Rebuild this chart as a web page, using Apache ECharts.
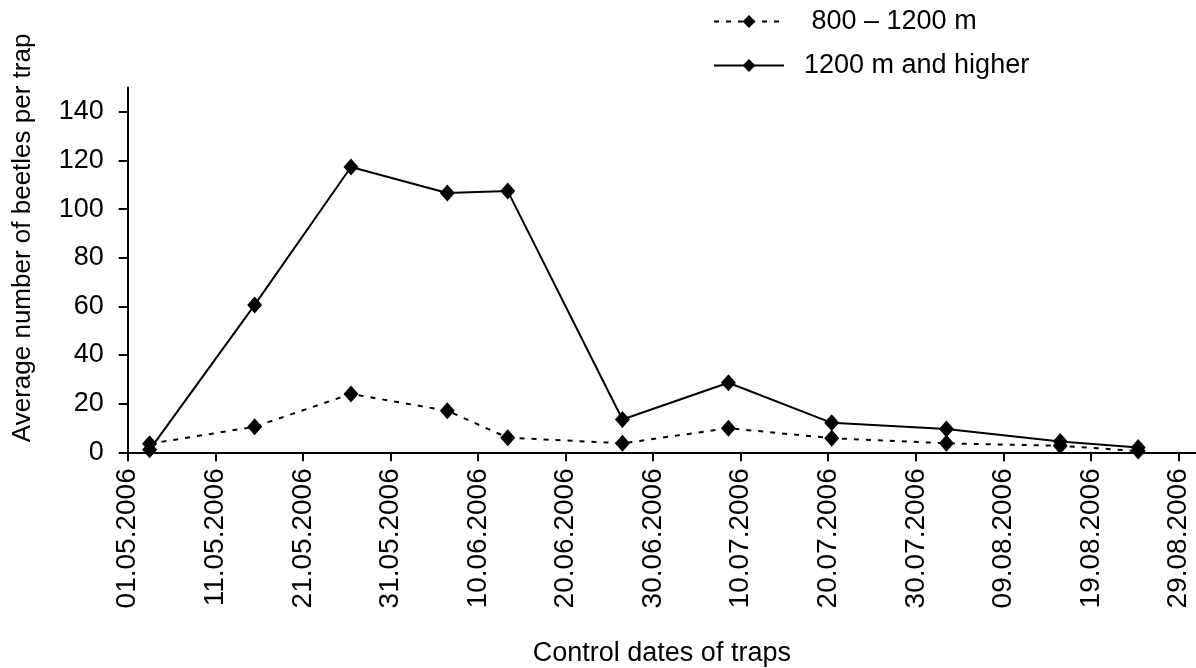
<!DOCTYPE html>
<html>
<head>
<meta charset="utf-8">
<script src="https://cdn.jsdelivr.net/npm/echarts@6.0.0/dist/echarts.min.js"></script>
<style>
html,body{margin:0;padding:0;background:#fff;}
#chart{width:1196px;height:668px;}
</style>
</head>
<body>
<div id="chart"></div>
<script>
// Days after 01.05.2006 of each trap control
var controlDays = [2.5, 14.5, 25.5, 36.5, 43.4, 56.5, 68.6, 80.4, 93.5, 106.5, 115.4];
var seriesNames = [' 800 \u2013 1200 m', '1200 m and higher'];
var mid800to1200 = [3.5, 10.5, 24.0, 17.1, 6.0, 3.7, 9.9, 5.8, 3.7, 2.7, 0.5];
var high1200plus = [1.0, 60.6, 117.3, 106.6, 107.4, 13.5, 28.6, 12.1, 9.6, 4.4, 2.0];
var xTickDays = [0, 10, 20, 30, 40, 50, 60, 70, 80, 90, 100, 110, 120];
var xTickLabels = ['01.05.2006', '11.05.2006', '21.05.2006', '31.05.2006', '10.06.2006', '20.06.2006',
  '30.06.2006', '10.07.2006', '20.07.2006', '30.07.2006', '09.08.2006', '19.08.2006', '29.08.2006'];
var yTicks = [0, 20, 40, 60, 80, 100, 120, 140];

function pairs(xs, ys) { return xs.map(function (x, i) { return [x, ys[i]]; }); }

var font = 'Liberation Sans, Arial, sans-serif';
var chart = echarts.init(document.getElementById('chart'), null, {renderer: 'canvas'});
chart.setOption({
  animation: false,
  backgroundColor: '#fff',
  textStyle: {fontFamily: font, color: '#000'},
  grid: {left: 127.7, right: 0, top: 87.5, bottom: 215.7, containLabel: false, outerBoundsMode: 'none'},
  legend: {
    orient: 'vertical',
    left: 713,
    top: 8,
    padding: 0,
    itemWidth: 70,
    itemHeight: 16,
    itemGap: 17,
    data: seriesNames,
    textStyle: {fontFamily: font, fontSize: 27, color: '#000', padding: [0, 0, 0, 15]}
  },
  xAxis: {
    type: 'value',
    min: 0,
    max: 122,
    interval: 10,
    splitLine: {show: false},
    axisLine: {show: true, onZero: false, lineStyle: {color: '#000', width: 2}},
    axisTick: {show: true, length: 9, inside: false, lineStyle: {color: '#000', width: 2}, customValues: xTickDays},
    axisLabel: {
      rotate: 90, margin: 16, fontSize: 28, fontFamily: font, color: '#000',
      customValues: xTickDays,
      formatter: function (v) { var i = xTickDays.indexOf(v); return i >= 0 ? xTickLabels[i] : ''; }
    },
    name: 'Control dates of traps',
    nameLocation: 'middle',
    nameGap: 188,
    nameTextStyle: {fontSize: 27, fontFamily: font, color: '#000'}
  },
  yAxis: {
    type: 'value',
    min: 0,
    max: 150,
    interval: 10,
    splitLine: {show: false},
    axisLine: {show: true, onZero: false, lineStyle: {color: '#000', width: 2}},
    axisTick: {show: true, length: 9, lineStyle: {color: '#000', width: 2}, customValues: yTicks},
    axisLabel: {margin: 24, fontSize: 27, fontFamily: font, color: '#000', customValues: yTicks},
    name: 'Average number of beetles per trap',
    nameLocation: 'middle',
    nameGap: 92,
    nameTextStyle: {fontSize: 26, fontFamily: font, color: '#000', padding: [0, 0, 0, 64]}
  },
  series: [
    {
      name: seriesNames[0],
      type: 'line',
      data: pairs(controlDays, mid800to1200),
      symbol: 'diamond',
      symbolSize: [15, 17],
      itemStyle: {color: '#000'},
      lineStyle: {color: '#000', width: 2, type: [5, 7]},
      z: 2
    },
    {
      name: seriesNames[1],
      type: 'line',
      data: pairs(controlDays, high1200plus),
      symbol: 'diamond',
      symbolSize: [15, 17],
      itemStyle: {color: '#000'},
      lineStyle: {color: '#000', width: 2, type: 'solid'},
      z: 3
    }
  ]
});
</script>
</body>
</html>
